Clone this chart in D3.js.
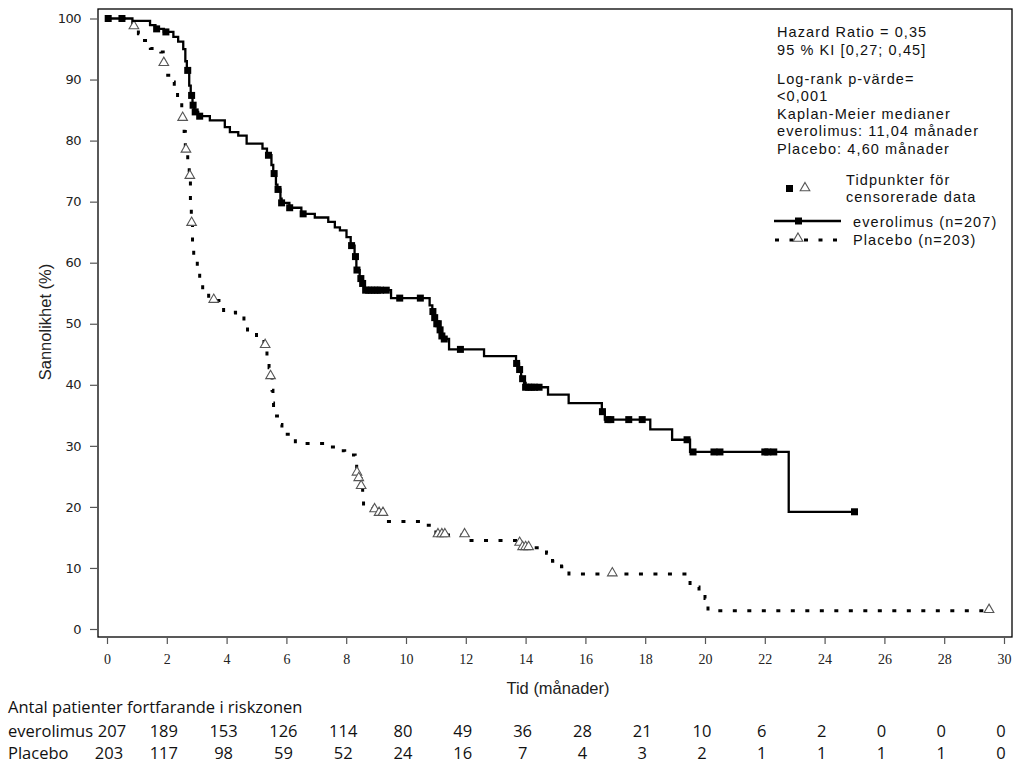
<!DOCTYPE html>
<html><head><meta charset="utf-8">
<script src="https://cdn.jsdelivr.net/npm/d3@7"></script>
<style>
html,body{margin:0;padding:0;background:#fff;}
svg{display:block;}
</style></head>
<body>
<script>
// ---- DATA ----
const xTicks = [0,2,4,6,8,10,12,14,16,18,20,22,24,26,28,30];
const yTicks = [0,10,20,30,40,50,60,70,80,90,100];

// everolimus KM step points [time (months), survival (%)]
const everoTimes = [0,0.85,1.44,1.62,1.9,2.22,2.38,2.55,2.62,2.67,2.75,2.8,2.86,2.92,3.05,3.44,3.94,4.11,4.39,4.67,5.2,5.35,5.5,5.56,5.65,5.7,5.8,5.84,6.1,6.5,6.95,7.4,7.62,7.79,8.01,8.15,8.28,8.34,8.45,8.52,8.6,9.5,10.79,10.88,10.95,11.02,11.1,11.18,11.25,11.44,12.61,13.68,13.78,13.85,13.95,14.0,14.75,15.44,16.55,16.65,18.17,18.9,19.5,22.8];
const everoSurv  = [100,99.6,98.9,98.3,97.8,97.0,96.2,95.0,93.0,91.5,89.0,87.4,85.8,84.7,84.0,83.3,82.2,81.4,80.8,79.5,78.7,77.6,76.0,74.6,72.8,72.0,70.5,69.8,69.0,68.0,67.4,66.7,65.8,65.3,64.2,62.8,61.0,58.8,57.4,56.6,55.5,54.2,53.0,52.0,51.0,50.0,49.0,48.0,47.5,45.8,44.7,43.5,42.5,41.0,40.3,39.6,38.4,37.0,35.6,34.3,32.7,31.0,29.0,19.2];
const everoEnd = 25.0;
const everoCensor = [0.04,0.5,1.66,1.97,2.7,2.83,2.88,2.95,3.1,5.4,5.59,5.72,5.84,6.11,6.56,8.18,8.31,8.36,8.49,8.55,8.65,8.75,8.85,8.95,9.05,9.15,9.34,9.79,10.48,10.9,10.96,11.03,11.08,11.14,11.2,11.28,11.82,13.7,13.8,13.9,14.0,14.1,14.2,14.3,14.45,16.57,16.75,16.85,17.45,17.9,19.4,19.6,20.3,20.5,22.0,22.1,22.3,25.0];

// placebo KM step points
const placeboTimes = [0,0.86,1.05,1.2,1.45,1.8,1.88,1.94,2.14,2.25,2.36,2.5,2.58,2.62,2.7,2.75,2.79,2.82,2.86,2.9,3.02,3.1,3.2,3.4,3.9,4.3,4.58,4.7,5.0,5.25,5.35,5.42,5.46,5.52,5.55,5.57,5.7,5.85,6.3,7.3,7.7,7.95,8.3,8.35,8.42,8.5,8.55,8.58,8.9,9.1,9.35,10.5,11.0,12.1,13.75,13.9,14.7,14.9,15.2,15.45,19.5,19.8,20.0,20.1];
const placeboSurv  = [100,98.6,97.5,96.4,95.1,94.5,92.6,90.7,89.6,87.9,86.6,83.6,81.5,78.4,76.0,74.1,70.0,66.4,63.0,60.4,58.5,56.8,55.2,53.8,51.9,51.4,50.0,48.6,47.7,46.4,44.5,42.8,41.3,39.1,37.0,34.9,33.5,31.9,30.4,29.8,29.2,28.5,27.4,25.5,24.6,23.3,22.2,20.0,19.5,18.9,17.6,17.0,15.4,14.5,14.0,13.3,12.4,11.1,10.2,9.0,6.9,6.0,5.0,3.0];
const placeboEnd = 29.5;
const placeboCensor = [0.9,1.9,2.53,2.64,2.77,2.83,3.57,5.29,5.47,8.36,8.42,8.5,8.95,9.1,9.23,11.07,11.2,11.3,11.96,13.8,13.9,14.0,14.1,16.9,29.5];

// risk table
const riskTimes = [0,2,4,6,8,10,12,14,16,18,20,22,24,26,28,30];
const riskEvero = [207,189,153,126,114,80,49,36,28,21,10,6,2,0,0,0];
const riskPlacebo = [203,117,98,59,52,24,16,7,4,3,2,1,1,1,1,0];

const statLines1 = ["Hazard Ratio = 0,35","95 % KI [0,27; 0,45]"];
const statLines2 = ["Log-rank p-värde=","<0,001","Kaplan-Meier medianer","everolimus: 11,04 månader","Placebo: 4,60 månader"];
const censorLabel = ["Tidpunkter för","censorerade data"];
const seriesLabels = ["everolimus (n=207)","Placebo (n=203)"];

// ---- DRAW ----
const W=1028,H=773;
const svg=d3.select("body").append("svg").attr("width",W).attr("height",H);
const x=d3.scaleLinear().domain([0,30]).range([107,1004]);
const y=d3.scaleLinear().domain([0,100]).range([629,18.5]);
const frame={l:98,r:1012,t:9,b:637};
const legendFont="'Liberation Sans', Arial, sans-serif";
const tableFont="'Open Sans', Lato, sans-serif";

svg.append("rect").attr("x",frame.l).attr("y",frame.t).attr("width",frame.r-frame.l).attr("height",frame.b-frame.t)
  .attr("fill","none").attr("stroke","#000").attr("stroke-width",1.3);

// x axis ticks (below frame)
const xAxis=svg.append("g").attr("transform",`translate(0,${frame.b+1})`)
  .call(d3.axisBottom(x).tickValues(xTicks).tickSize(6).tickSizeOuter(0).tickPadding(10));
xAxis.select(".domain").remove();
xAxis.selectAll("line").attr("stroke","#555").attr("stroke-width",1.2);
xAxis.selectAll("text").attr("font-family","'Liberation Serif', serif").attr("font-size",14).attr("fill","#222");

// y axis ticks (left of frame)
const yAxis=svg.append("g").attr("transform",`translate(${frame.l-1},0)`)
  .call(d3.axisLeft(y).tickValues(yTicks).tickSize(7).tickSizeOuter(0).tickPadding(9));
yAxis.select(".domain").remove();
yAxis.selectAll("line").attr("stroke","#555").attr("stroke-width",1.2);
yAxis.selectAll("text").attr("font-family","'DejaVu Sans', sans-serif").attr("font-size",13).attr("letter-spacing",-0.5).attr("fill","#222");

svg.append("text").attr("transform","translate(51,322) rotate(-90)").attr("text-anchor","middle")
  .attr("font-family","'Liberation Sans', Arial, sans-serif").attr("font-size",16.5).attr("fill","#222").text("Sannolikhet (%)");
svg.append("text").attr("x",558).attr("y",694).attr("text-anchor","middle")
  .attr("font-family","'Liberation Sans', Arial, sans-serif").attr("font-size",16.5).attr("fill","#222").text("Tid (månader)");

function stepPts(times,surv,end){
  const pts=times.map((t,i)=>[t,surv[i]]);
  pts.push([end,surv[surv.length-1]]);
  return pts;
}
function survAt(times,surv,t){
  let s=surv[0];
  for(let i=0;i<times.length;i++){ if(times[i]<=t) s=surv[i]; }
  return s;
}
const line=d3.line().x(d=>x(d[0])).y(d=>y(d[1])).curve(d3.curveStepAfter);

// placebo
svg.append("path").datum(stepPts(placeboTimes,placeboSurv,placeboEnd)).attr("d",line)
  .attr("fill","none").attr("stroke","#000").attr("stroke-width",3).attr("stroke-dasharray","4,10.5");
const tri=d3.symbol().type(d3.symbolTriangle).size(40);
svg.append("g").selectAll("path").data(placeboCensor).join("path")
  .attr("d",tri).attr("transform",t=>`translate(${x(t)},${y(survAt(placeboTimes,placeboSurv,t))-1})`)
  .attr("fill","#fff").attr("stroke","#555").attr("stroke-width",1.1);

// everolimus
svg.append("path").datum(stepPts(everoTimes,everoSurv,everoEnd)).attr("d",line)
  .attr("fill","none").attr("stroke","#000").attr("stroke-width",2.3);
const sq=7;
svg.append("g").selectAll("rect").data(everoCensor).join("rect")
  .attr("x",t=>x(t)-sq/2).attr("y",t=>y(survAt(everoTimes,everoSurv,t))-sq/2)
  .attr("width",sq).attr("height",sq).attr("fill","#000");

// statistics text
const st=svg.append("g").attr("font-family",legendFont).attr("font-size",14.5).attr("letter-spacing",1.1).attr("fill","#111");
statLines1.forEach((s,i)=>st.append("text").attr("x",777).attr("y",37+i*18).text(s));
statLines2.forEach((s,i)=>st.append("text").attr("x",777).attr("y",84+i*17.4).text(s));
censorLabel.forEach((s,i)=>st.append("text").attr("x",846).attr("y",185+i*17).text(s));
st.append("rect").attr("x",786).attr("y",185).attr("width",7).attr("height",7).attr("fill","#000");
st.append("path").attr("d",tri).attr("transform","translate(805,188)").attr("fill","#fff").attr("stroke","#555").attr("stroke-width",1.1);

// series legend
st.append("line").attr("x1",774).attr("x2",841).attr("y1",221).attr("y2",221).attr("stroke","#000").attr("stroke-width",2.3);
st.append("rect").attr("x",795).attr("y",217.5).attr("width",7).attr("height",7).attr("fill","#000");
st.append("text").attr("x",853).attr("y",227).text(seriesLabels[0]);
st.append("line").attr("x1",775).attr("x2",841).attr("y1",240).attr("y2",240).attr("stroke","#000").attr("stroke-width",3).attr("stroke-dasharray","4,10.5");
st.append("path").attr("d",tri).attr("transform","translate(798,238.5)").attr("fill","#fff").attr("stroke","#555").attr("stroke-width",1.1);
st.append("text").attr("x",853).attr("y",245).text(seriesLabels[1]);

// risk table
const rt=svg.append("g").attr("font-family",tableFont).attr("font-size",16.5).attr("fill","#111");
rt.append("text").attr("x",8).attr("y",713).text("Antal patienter fortfarande i riskzonen");
rt.append("text").attr("x",8).attr("y",737).text("everolimus");
rt.append("text").attr("x",8).attr("y",759).text("Placebo");
rt.selectAll(".re").data(riskEvero).join("text").attr("class","re")
  .attr("x",(d,i)=>x(riskTimes[i])+(i===0?5:-3)).attr("y",737).attr("text-anchor","middle").text(d=>d);
rt.selectAll(".rp").data(riskPlacebo).join("text").attr("class","rp")
  .attr("x",(d,i)=>x(riskTimes[i])+(i===0?2:-3)).attr("y",759).attr("text-anchor","middle").text(d=>d);
</script>
</body></html>
